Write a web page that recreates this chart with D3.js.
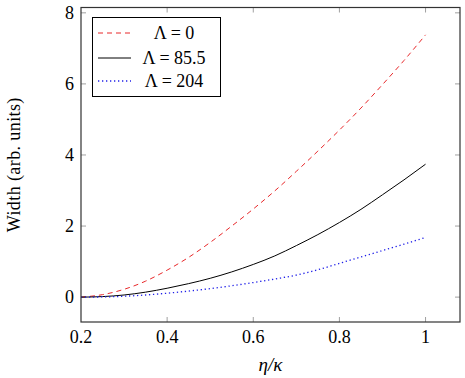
<!DOCTYPE html>
<html>
<head>
<meta charset="utf-8">
<script src="https://cdn.jsdelivr.net/npm/d3@7"></script>
<style>
  body { margin: 0; background: #fff; }
  svg text { font-family: "Liberation Serif", "DejaVu Serif", serif; fill: #000; }
</style>
</head>
<body>
<script>
// eta/kappa sample points
var etaK = [0.2, 0.25, 0.3, 0.35, 0.4, 0.45, 0.5, 0.55, 0.6, 0.65, 0.7, 0.75, 0.8, 0.85, 0.9, 0.95, 1.0];

// width values
var width0 = [0, 0.07, 0.22, 0.45, 0.76, 1.12, 1.54, 2.00, 2.48, 2.99, 3.54, 4.11, 4.70, 5.32, 5.98, 6.66, 7.38];
var width855 = [0, 0.015, 0.06, 0.14, 0.25, 0.38, 0.53, 0.71, 0.92, 1.16, 1.45, 1.76, 2.10, 2.47, 2.88, 3.30, 3.74];
var width204 = [0, 0.005, 0.025, 0.06, 0.11, 0.17, 0.24, 0.32, 0.41, 0.51, 0.62, 0.77, 0.95, 1.13, 1.31, 1.49, 1.68];

var xTicks = [0.2, 0.4, 0.6, 0.8, 1];
var yTicks = [0, 2, 4, 6, 8];

var seriesNames = ["\u039B = 0", "\u039B = 85.5", "\u039B = 204"];
var seriesColors = ["#e8282a", "#000000", "#2020e8"];
var seriesDash = ["5,4", null, "1.3,2.7"];
var seriesData = [width0, width855, width204];

(function(){
  var W = 465, H = 378;
  var pLeft = 81, pRight = 460, pTop = 7.5, pBottom = 322;

  var svg = d3.select("body").append("svg")
    .attr("width", W).attr("height", H);

  var x = d3.scaleLinear().domain([0.2, 1.08]).range([pLeft, pRight]);
  var y = d3.scaleLinear().domain([-0.7, 8.15]).range([pBottom, pTop]);

  var tickLen = 5;
  var tickColor = "#888";

  // ticks (inside, mirrored)
  var ticks = svg.append("g");
  xTicks.forEach(function(t){
    if (t === 0.2) return;
    ticks.append("line").attr("x1", x(t)).attr("x2", x(t))
      .attr("y1", pBottom).attr("y2", pBottom - tickLen)
      .attr("stroke", tickColor).attr("stroke-width", 0.8);
    ticks.append("line").attr("x1", x(t)).attr("x2", x(t))
      .attr("y1", pTop).attr("y2", pTop + tickLen)
      .attr("stroke", tickColor).attr("stroke-width", 0.8);
  });
  yTicks.forEach(function(t){
    ticks.append("line").attr("x1", pLeft).attr("x2", pLeft + tickLen)
      .attr("y1", y(t)).attr("y2", y(t))
      .attr("stroke", tickColor).attr("stroke-width", 0.8);
    ticks.append("line").attr("x1", pRight).attr("x2", pRight - tickLen)
      .attr("y1", y(t)).attr("y2", y(t))
      .attr("stroke", tickColor).attr("stroke-width", 0.8);
  });

  // tick labels
  svg.append("g").selectAll("text").data(xTicks).enter().append("text")
    .attr("x", function(d){ return x(d); })
    .attr("y", 343)
    .attr("text-anchor", "middle")
    .attr("font-size", 18)
    .text(function(d){ return d3.format("")(d); });

  svg.append("g").selectAll("text").data(yTicks).enter().append("text")
    .attr("x", pLeft - 7)
    .attr("y", function(d){ return y(d) + 6; })
    .attr("text-anchor", "end")
    .attr("font-size", 18)
    .text(function(d){ return d; });

  // curves
  var line = d3.line()
    .x(function(d, i){ return x(etaK[i]); })
    .y(function(d){ return y(d); })
    .curve(d3.curveMonotoneX);

  seriesData.forEach(function(s, k){
    var p = svg.append("path").datum(s)
      .attr("d", line)
      .attr("fill", "none")
      .attr("stroke", seriesColors[k])
      .attr("stroke-width", k === 2 ? 1.3 : 1);
    if (seriesDash[k]) p.attr("stroke-dasharray", seriesDash[k]);
  });

  // frame
  svg.append("rect")
    .attr("x", pLeft).attr("y", pTop)
    .attr("width", pRight - pLeft).attr("height", pBottom - pTop)
    .attr("fill", "none").attr("stroke", "#333").attr("stroke-width", 1.2);

  // legend
  var lg = svg.append("g");
  lg.append("rect").attr("x", 92.5).attr("y", 17.5).attr("width", 128).attr("height", 79)
    .attr("fill", "#fff").attr("stroke", "#000").attr("stroke-width", 1);
  var rowY = [33, 58, 81];
  seriesNames.forEach(function(n, k){
    var l = lg.append("line")
      .attr("x1", 98).attr("x2", 131)
      .attr("y1", rowY[k]).attr("y2", rowY[k])
      .attr("stroke", seriesColors[k])
      .attr("stroke-width", k === 2 ? 1.3 : 1);
    if (seriesDash[k]) l.attr("stroke-dasharray", seriesDash[k]);
    lg.append("text").attr("x", 174).attr("y", rowY[k] + 6)
      .attr("text-anchor", "middle").attr("font-size", 18)
      .text(n);
  });

  // axis labels
  svg.append("text")
    .attr("x", (pLeft + pRight) / 2).attr("y", 371)
    .attr("text-anchor", "middle").attr("font-size", 19)
    .attr("font-style", "italic")
    .text("\u03B7/\u03BA");

  svg.append("text")
    .attr("transform", "translate(20," + ((pTop + pBottom) / 2) + ") rotate(-90)")
    .attr("text-anchor", "middle").attr("font-size", 18)
    .attr("letter-spacing", 0.4)
    .text("Width (arb. units)");
})();
</script>
</body>
</html>
